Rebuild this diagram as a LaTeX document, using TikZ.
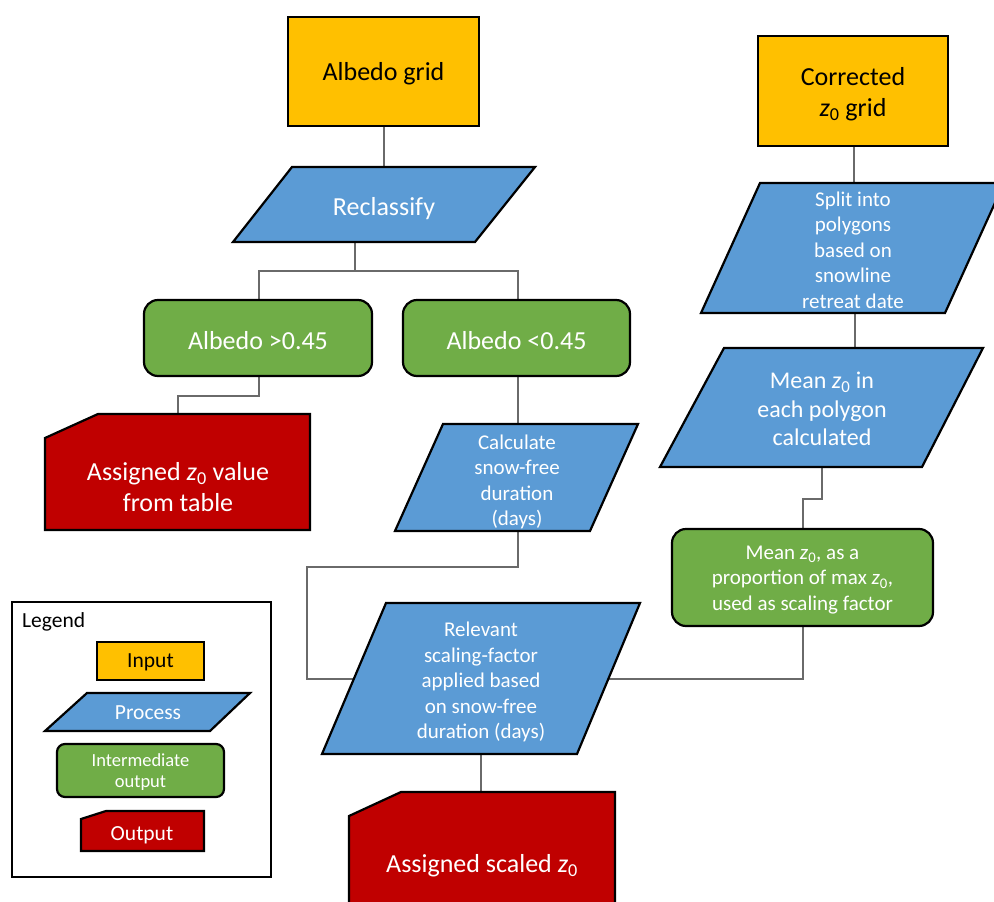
\documentclass[tikz,border=0pt]{standalone}
\usepackage{fontspec}
\setmainfont{Carlito}
\usetikzlibrary{backgrounds,calc}
\definecolor{inyel}{HTML}{FFC000}
\definecolor{procblue}{HTML}{5B9BD5}
\definecolor{intgreen}{HTML}{70AD47}
\definecolor{outred}{HTML}{C00000}
\definecolor{conngray}{HTML}{6A6A6A}
\newcommand{\zz}{\textit{z}\textsubscript{0}}
\tikzset{
  shapeline/.style={draw=black, line width=2.2pt, line join=miter},
  inbox/.style={shapeline, fill=inyel},
  procbox/.style={shapeline, fill=procblue},
  intbox/.style={shapeline, fill=intgreen, rounded corners=14pt},
  outbox/.style={shapeline, fill=outred},
  conn/.style={draw=conngray, line width=1.6pt},
  bigtxt/.style={font=\fontsize{26}{31}\selectfont, align=center, inner sep=0pt},
  midtxt/.style={font=\fontsize{21}{25.5}\selectfont, align=center, inner sep=0pt},
  meantxt/.style={font=\fontsize{24}{28.5}\selectfont, align=center, inner sep=0pt},
  smalltxt/.style={font=\fontsize{18.5}{21}\selectfont, align=center, inner sep=0pt},
  legtxt/.style={font=\fontsize{21.5}{25}\selectfont, align=center, inner sep=0pt},
  wtext/.style={text=white},
  ktext/.style={text=black}
}
\begin{document}
\begin{tikzpicture}[x=1pt,y=-1pt]
\useasboundingbox (0,0) rectangle (994,902);
% ---------- shapes ----------
% Albedo grid (input)
\draw[inbox] (288,17) rectangle (479,126);
\node[bigtxt,ktext] (albgrid) at (383.5,74) {Albedo grid};
% Reclassify (process)
\draw[procbox] (292,167) -- (535,167) -- (475,242) -- (233,242) -- cycle;
\node[bigtxt,wtext] (reclass) at (384,209) {Reclassify};
% Albedo >0.45
\draw[intbox] (144,300) rectangle (372,376);
\node[bigtxt,wtext] (albhi) at (258,341) {Albedo >0.45};
% Albedo <0.45
\draw[intbox] (403,300) rectangle (630,376);
\node[bigtxt,wtext] (alblo) at (516.5,341) {Albedo <0.45};
% Output 1
\draw[outbox] (45,438) -- (98,414) -- (310,414) -- (310,530) -- (45,530) -- cycle;
\node[bigtxt,wtext] (out1) at (178,487) {Assigned \zz{} value\\from table};
% Calculate
\draw[procbox] (443,424) -- (638,424) -- (590,531) -- (395,531) -- cycle;
\node[midtxt,wtext] (calc) at (517,482) {Calculate\\snow-free\\duration\\(days)};
% Relevant scaling factor
\draw[procbox] (386,603) -- (640,603) -- (577,754) -- (322,754) -- cycle;
\node[midtxt,wtext] (relev) at (481,682) {Relevant\\scaling-factor\\applied based\\on snow-free\\duration (days)};
% Output 2
\draw[outbox] (349,816) -- (401,792) -- (615,792) -- (615,925) -- (349,925) -- cycle;
\node[bigtxt,wtext] (out2) at (482,866) {Assigned scaled \zz};
% Corrected z0 grid
\draw[inbox] (758,36) rectangle (948,146);
\node[bigtxt,ktext] (corr) at (853,94) {Corrected\\\zz{} grid};
% Split into polygons
\draw[procbox] (760,183) -- (1004,183) -- (945,313) -- (701,313) -- cycle;
\node[midtxt,wtext] (split) at (853,250) {Split into\\polygons\\based on\\snowline\\retreat date};
% Mean z0 in each polygon
\draw[procbox] (724,348) -- (983,348) -- (922,467) -- (660,467) -- cycle;
\node[meantxt,wtext] (mean) at (822,409) {Mean \zz{} in\\each polygon\\calculated};
% Mean z0 as proportion
\draw[intbox] (672,529) rectangle (933,626);
\node[midtxt,wtext] (prop) at (802.5,580) {Mean \zz, as a\\proportion of max \zz,\\used as scaling factor};
% ---------- connectors ----------
\begin{scope}[on background layer]
\coordinate (c-ag) at (384,126);
\coordinate (c-rt) at (384,167);
\coordinate (c-rb) at (355,242);
\coordinate (c-hit) at (259,300);
\coordinate (c-lot) at (518,300);
\coordinate (c-hib) at (259,376);
\coordinate (c-o1t) at (178,414);
\coordinate (c-lob) at (518,376);
\coordinate (c-ct) at (518,424);
\coordinate (c-cb) at (518,531);
\coordinate (c-rl) at (360,679);
\coordinate (c-rr) at (605,679);
\coordinate (c-pb) at (803,626);
\coordinate (c-relb) at (481,754);
\coordinate (c-o2t) at (481,792);
\coordinate (c-cob) at (854,146);
\coordinate (c-st) at (854,183);
\coordinate (c-sb) at (855,313);
\coordinate (c-mt) at (855,348);
\coordinate (c-mb) at (822,467);
\coordinate (c-pt) at (803,529);
\draw[conn] (c-ag) -- (c-rt);
\draw[conn] (c-rb) -- (355,271) -| (c-hit);
\draw[conn] (355,271) -| (c-lot);
\draw[conn] (c-hib) -- (259,396) -| (c-o1t);
\draw[conn] (c-lob) -- (c-ct);
\draw[conn] (c-cb) -- (518,567) -| (307,679) -- (c-rl);
\draw[conn] (c-rr) -| (c-pb);
\draw[conn] (c-relb) -- (c-o2t);
\draw[conn] (c-cob) -- (c-st);
\draw[conn] (c-sb) -- (c-mt);
\draw[conn] (c-mb) -- (822,499) -| (c-pt);
\end{scope}
% ---------- legend ----------
\draw[draw=black, line width=2pt] (12,602) rectangle (271,877);
\node[legtxt, anchor=west] (legtitle) at (22,622) {Legend};
\draw[inbox] (97,642) rectangle (204,680);
\node[legtxt,ktext] (leginput) at (150.5,662) {Input};
\draw[procbox] (87,693) -- (250,693) -- (210,731) -- (45,731) -- cycle;
\node[legtxt,wtext] (legproc) at (148,713) {Process};
\draw[intbox, rounded corners=8pt] (57,744) rectangle (224,797);
\node[smalltxt,wtext] (legint) at (140.5,772) {Intermediate\\output};
\draw[outbox] (81,819) -- (106,811) -- (204,811) -- (204,851) -- (81,851) -- cycle;
\node[legtxt,wtext] (legout) at (142,835) {Output};
\end{tikzpicture}
\end{document}
